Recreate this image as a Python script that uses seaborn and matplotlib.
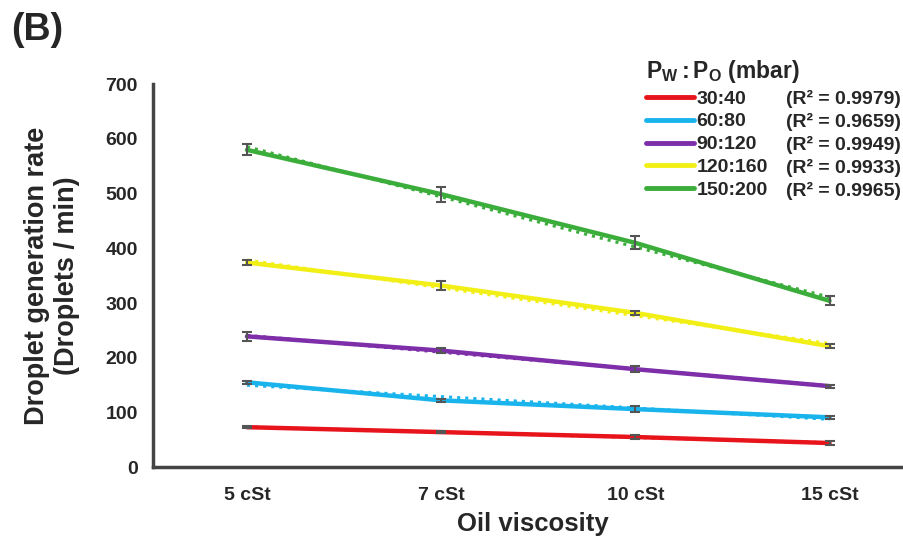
import numpy as np
import pandas as pd
import matplotlib.pyplot as plt
import seaborn as sns

# Dados
viscosidades = ['5 cSt', '7 cSt', '10 cSt', '15 cSt']
razoes = ['30:40', '60:80', '90:120', '120:160', '150:200']
r2 = ['0.9979', '0.9659', '0.9949', '0.9933', '0.9965']
cores = ['#e8141b', '#1ab4ec', '#7d2ea8', '#f2ef16', '#3aad3a']

taxa_30_40 = [73, 64, 55, 44]
taxa_60_80 = [155, 122, 106, 91]
taxa_90_120 = [239, 213, 179, 148]
taxa_120_160 = [374, 332, 282, 221]
taxa_150_200 = [580, 499, 410, 304]

erro_30_40 = [2, 2, 4, 3]
erro_60_80 = [3, 3, 5, 3]
erro_90_120 = [8, 5, 5, 3]
erro_120_160 = [4, 8, 3, 4]
erro_150_200 = [10, 14, 12, 8]

taxas = [taxa_30_40, taxa_60_80, taxa_90_120, taxa_120_160, taxa_150_200]
erros = [erro_30_40, erro_60_80, erro_90_120, erro_120_160, erro_150_200]

df = pd.DataFrame({
    'Viscosidade': viscosidades * len(razoes),
    'idx': list(range(len(viscosidades))) * len(razoes),
    'Razao': [r for r in razoes for _ in viscosidades],
    'Taxa': sum(taxas, []),
    'Erro': sum(erros, []),
})

# Estilo
sns.set_theme(style='white')
plt.rcParams['font.family'] = ['Liberation Sans', 'DejaVu Sans']
plt.rcParams['font.weight'] = 'bold'
plt.rcParams['mathtext.fontset'] = 'custom'
plt.rcParams['mathtext.rm'] = 'Liberation Sans:bold'
plt.rcParams['mathtext.it'] = 'Liberation Sans:bold'
plt.rcParams['mathtext.bf'] = 'Liberation Sans:bold'

fig = plt.figure(figsize=(9.04, 5.4), dpi=100)
ax = fig.add_axes([153 / 904, 0.135, 1 - 153 / 904 + 0.01, 0.709])

paleta = dict(zip(razoes, cores))
sns.lineplot(data=df, x='idx', y='Taxa', hue='Razao', palette=paleta,
             linewidth=3.2, ax=ax, legend=False, zorder=3)

# Linhas de tendência pontilhadas + barras de erro
for razao in razoes:
    sub = df[df['Razao'] == razao]
    sns.regplot(data=sub, x='idx', y='Taxa', ci=None, scatter=False,
                ax=ax, color=paleta[razao], truncate=True,
                line_kws={'linestyle': ':', 'linewidth': 2.2, 'zorder': 4})
    ax.errorbar(sub['idx'], sub['Taxa'], yerr=sub['Erro'], fmt='none',
                ecolor='#555555', elinewidth=1.5, capsize=3.5, capthick=1.5, zorder=5)

ax.set_xlim(-0.484, 3.43)
ax.set_ylim(0, 700)
ax.set_xticks(range(len(viscosidades)))
ax.set_xticklabels(viscosidades)
ax.set_yticks(range(0, 701, 100))
ax.tick_params(axis='both', length=0, labelsize=14)
ax.tick_params(axis='y', pad=11)
ax.tick_params(axis='x', pad=14)
for lbl in ax.get_xticklabels() + ax.get_yticklabels():
    lbl.set_fontweight('bold')

ax.set_xlabel('Oil viscosity', fontsize=18.5, fontweight='bold', labelpad=6)
ax.set_ylabel('Droplet generation rate\n(Droplets / min)', fontsize=19.5,
              fontweight='bold', labelpad=18, linespacing=1.2)

sns.despine(ax=ax)
for s in ['left', 'bottom']:
    ax.spines[s].set_color('#444444')
    ax.spines[s].set_linewidth(2.5)

# Legenda
handles = [plt.Line2D([], [], color=c, linewidth=3.5) for c in cores]
leg = ax.legend(handles, razoes, title=r'$P_W : P_O$' + ' (mbar)',
                loc='upper left', bbox_to_anchor=(638 / 904, 1 - 50 / 540),
                bbox_transform=fig.transFigure, frameon=False,
                fontsize=14, title_fontsize=16.5, handlelength=2.5,
                handletextpad=0.1, labelspacing=0.27, borderaxespad=0)
leg._legend_box.align = 'left'
for t in leg.get_texts():
    t.set_fontweight('bold')
leg.get_title().set_fontweight('bold')

fig.canvas.draw()
for t, v in zip(leg.get_texts(), r2):
    bb = t.get_window_extent().transformed(fig.transFigure.inverted())
    fig.text(786 / 904, (bb.y0 + bb.y1) / 2, f'(R\u00b2 = {v})', fontsize=14,
             fontweight='bold', va='center', ha='left')

fig.text(0.012, 0.945, '(B)', fontsize=27, fontweight='bold', va='center')

plt.savefig('out.png', dpi=100)
plt.close()
